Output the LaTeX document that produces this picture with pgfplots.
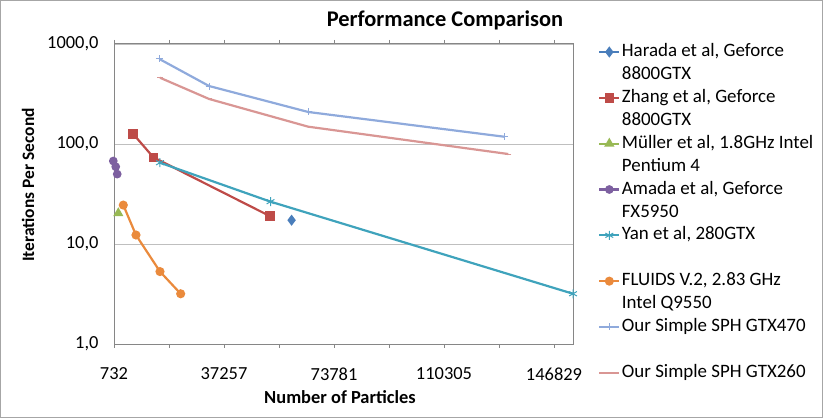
\documentclass[border=0pt]{standalone}
\usepackage{fontspec}
\setmainfont{Carlito}
\usepackage{pgfplots}
\pgfplotsset{compat=1.18}
\definecolor{cHar}{HTML}{4A7EBB}
\definecolor{cZha}{HTML}{BE4B48}
\definecolor{cMul}{HTML}{98B954}
\definecolor{cAma}{HTML}{7D60A0}
\definecolor{cYan}{HTML}{3FA3BC}
\definecolor{cFlu}{HTML}{EA8A3C}
\definecolor{c470}{HTML}{8FAADC}
\definecolor{c260}{HTML}{D99694}
\definecolor{axgray}{HTML}{868686}
\definecolor{gridgray}{HTML}{BFBFBF}
\newcommand{\lgt}[2]{\parbox[t]{200bp}{\fontsize{19}{23}\selectfont\strut #1\\\strut #2}}
\begin{document}
\begin{tikzpicture}[x=1bp,y=1bp]
\useasboundingbox (0,0) rectangle (823,418);
\draw[gray!70,line width=0.8bp] (0.4,0.4) rectangle (822.6,417.6);
\begin{axis}[
  at={(114bp,74bp)}, anchor=south west,
  scale only axis, width=459bp, height=300bp,
  xmin=732, xmax=153136,
  ymode=log, ymin=1, ymax=1000,
  clip=false,
  scaled x ticks=false,
  axis line style={axgray, line width=1bp},
  xtick={732,37257,73781,110305,146829},
  xticklabels={732,37257,73781,110305,146829},
  minor xtick={18994.5,55519,92043,128567},
  xtick style={axgray, line width=0.8bp},
  minor tick style={axgray, line width=0.8bp},
  tick align=outside,
  major tick length=4bp, minor tick length=4bp,
  ytick={1,10,100,1000},
  yticklabels={{1,0},{10,0},{100,0},{1000,0}},
  ytick style={draw=none},
  ymajorgrids, major grid style={gridgray, line width=0.8bp},
  tick label style={font=\fontsize{18.5}{20}\selectfont, text=black},
  xticklabel style={yshift=-16bp},
  yticklabel style={xshift=-8bp},
  legend style={at={(1.0545,1.012)}, anchor=north west, draw=none, fill=none,
    inner sep=0pt, row sep=0pt, column sep=1.5bp,
    nodes={inner sep=0pt, text depth=}},
  legend cell align=left,
  legend image code/.code={\draw[mark repeat=2,mark phase=2] plot coordinates {(0bp,0bp)(10bp,0bp)(20bp,0bp)};},
  legend image post style={yshift=11.5bp},
]
\addplot[cHar, line width=2.2bp, mark=diamond*, mark size=3.8bp, mark options={solid}] coordinates {(59700,17.3)};
\addlegendentry{\lgt{Harada et al, Geforce}{8800GTX}}
\addplot[cZha, line width=2.2bp, mark=square*, mark size=3.6bp] coordinates {(7100,126) (13800,73.6) (52500,19.0)};
\addlegendentry{\lgt{Zhang et al, Geforce}{8800GTX}}
\addplot[cMul, line width=2.2bp, mark=triangle*, mark size=3.8bp] coordinates {(2160,20.3)};
\addlegendentry{\lgt{Müller et al, 1.8GHz Intel}{Pentium 4}}
\addplot[cAma, line width=2.2bp, mark=*, mark size=3.2bp] coordinates {(500,67.6) (1300,59.3) (1800,50.0)};
\addlegendentry{\lgt{Amada et al, Geforce}{FX5950}}
\addplot[cYan, line width=2.2bp, mark=asterisk, mark size=4.5bp, mark options={line width=1bp}] coordinates {(16000,65) (52700,26.5) (153136,3.18)};
\addlegendentry{\lgt{Yan et al, 280GTX}{}}
\addplot[cFlu, line width=2.2bp, mark=*, mark size=3.4bp] coordinates {(3820,24.5) (8030,12.3) (16000,5.3) (22870,3.18)};
\addlegendentry{\lgt{FLUIDS V.2, 2.83 GHz}{Intel Q9550}}
\addplot[c470, line width=2.2bp, mark=+, mark size=3.5bp, mark options={line width=1bp}] coordinates {(15800,708) (32300,380) (65200,209) (130500,118)};
\addlegendentry{\lgt{Our Simple SPH GTX470}{}}
\addplot[c260, line width=2.2bp, mark=-, mark size=3bp, mark options={line width=1bp}] coordinates {(16000,460) (32300,282) (65200,149) (131650,79.4)};
\addlegendentry{\lgt{Our Simple SPH GTX260}{}}
\end{axis}
\node[font=\bfseries\fontsize{22.5}{27}\selectfont] at (445,398) {Performance Comparison};
\node[font=\bfseries\fontsize{18.5}{22}\selectfont] at (340,21) {Number of Particles};
\node[font=\bfseries\fontsize{17.5}{21}\selectfont, rotate=90] at (28,233) {Iterations Per Second};
\end{tikzpicture}
\end{document}
